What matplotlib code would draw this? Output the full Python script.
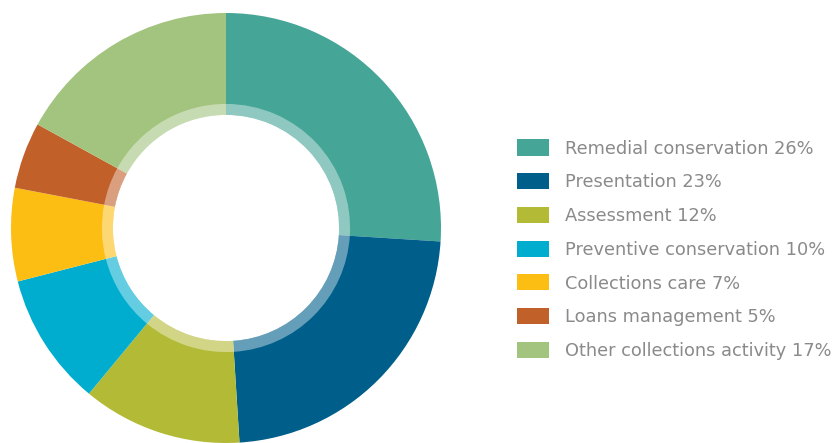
import matplotlib
matplotlib.use("Agg")
import matplotlib.pyplot as plt
from matplotlib.patches import Patch

# datos del grafico
categories = ["Remedial conservation", "Presentation", "Assessment",
              "Preventive conservation", "Collections care",
              "Loans management", "Other collections activity"]
shares = [26, 23, 12, 10, 7, 5, 17]
colors = ["#45A597", "#005F8A", "#B3BA35", "#00ADCF", "#FDBE14",
          "#C2602A", "#A3C47F"]

plt.rcParams["font.family"] = ["DejaVu Sans"]

fig = plt.figure(figsize=(8.39, 4.43), dpi=100)
# center ~ (226, 228) px, outer radius ~215 px
ax = fig.add_axes([11 / 839, (443 - 228 - 215) / 443, 430 / 839, 430 / 443])

ax.pie(shares, colors=colors, startangle=90, counterclock=False, radius=1,
       wedgeprops=dict(width=1 - 0.526, linewidth=0))
# lighter inner band
ax.pie(shares, colors=["white"] * len(shares), startangle=90, counterclock=False,
       radius=0.577, wedgeprops=dict(width=0.051, linewidth=0, alpha=0.4))
ax.set_xlim(-1, 1)
ax.set_ylim(-1, 1)
ax.set_aspect("equal")
ax.axis("off")

handles = [Patch(facecolor=c, edgecolor="none") for c in colors]
labels = [f"{c} {s}%" for c, s in zip(categories, shares)]
fig.legend(handles, labels, loc="upper left",
           bbox_to_anchor=(517 / 839, 1 - 139.5 / 443),
           frameon=False, fontsize=12.8, labelcolor="#8a8a8a",
           handlelength=1.8, handleheight=1.01, handletextpad=0.9,
           labelspacing=0.88, borderpad=0, borderaxespad=0)

fig.savefig("out.png", dpi=100)
